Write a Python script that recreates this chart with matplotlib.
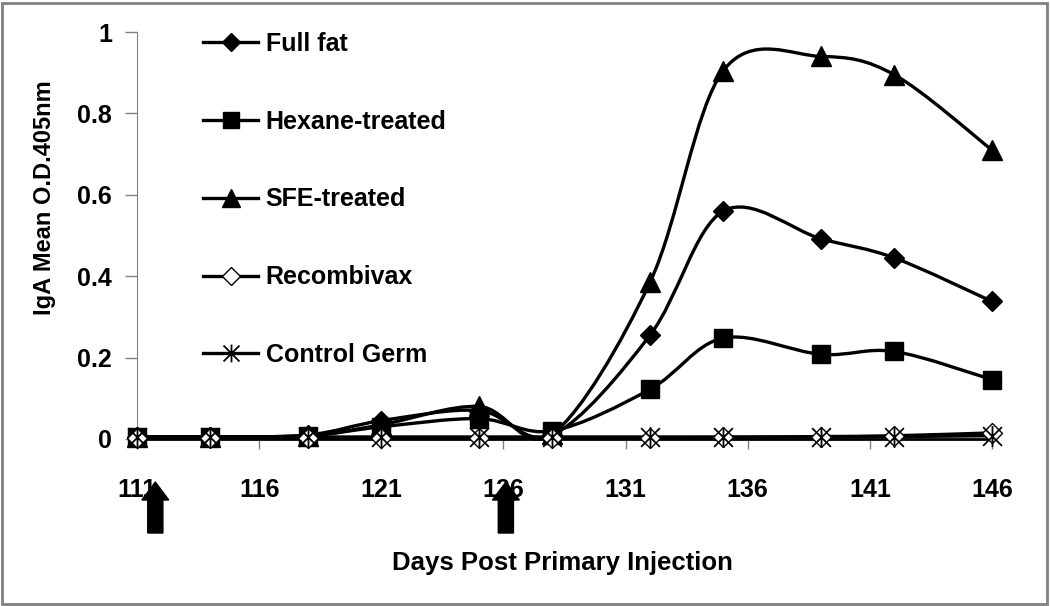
import numpy as np
import matplotlib
matplotlib.use('Agg')
import matplotlib.pyplot as plt
import matplotlib.transforms as mtransforms
from matplotlib.path import Path
from matplotlib.patches import PathPatch, Rectangle, FancyArrow
from matplotlib.lines import Line2D

plt.rcParams['font.family'] = ['Liberation Sans', 'DejaVu Sans']
plt.rcParams['font.weight'] = 'bold'

#data
days = [111, 114, 118, 121, 125, 128, 132, 135, 139, 142, 146]
full_fat   = [0.005, 0.005, 0.010, 0.045, 0.070, 0.010, 0.255, 0.560, 0.492, 0.445, 0.338]
hexane     = [0.005, 0.005, 0.008, 0.030, 0.050, 0.020, 0.122, 0.248, 0.208, 0.215, 0.146]
sfe        = [0.005, 0.005, 0.008, 0.035, 0.080, 0.012, 0.385, 0.905, 0.940, 0.895, 0.710]
recombivax = [0.003, 0.003, 0.003, 0.003, 0.003, 0.003, 0.003, 0.004, 0.006, 0.008, 0.015]
control    = [0.005, 0.005, 0.005, 0.005, 0.005, 0.005, 0.005, 0.005, 0.005, 0.006, 0.008]
labels = ['Full fat', 'Hexane-treated', 'SFE-treated', 'Recombivax', 'Control Germ']
arrow_days = [111.75, 126.1]
xticks = list(range(111, 147, 5))
yticks = [0, 0.2, 0.4, 0.6, 0.8, 1]

#asterisk marker: vertical bar plus an X
star = Path([(0, -1), (0, 1), (-0.9, -0.9), (0.9, 0.9), (-0.9, 0.9), (0.9, -0.9)],
            [Path.MOVETO, Path.LINETO] * 3)

styles = [dict(marker='D', ms=10.5, mfc='k'),
          dict(marker='s', ms=13, mfc='k'),
          dict(marker='^', ms=15, mfc='k'),
          dict(marker='D', ms=10.5, mfc='white'),
          dict(marker=star, ms=15, mfc='none', mew=1.3)]
series = [full_fat, hexane, sfe, recombivax, control]


def smooth_path(x, y):
    # excel style smoothed line: bezier through the points
    P = np.column_stack([x, y]).astype(float)
    n = len(P)
    verts = [P[0]]
    codes = [Path.MOVETO]
    for i in range(n - 1):
        p0 = P[i - 1] if i > 0 else P[i]
        p1, p2 = P[i], P[i + 1]
        p3 = P[i + 2] if i + 2 < n else P[i + 1]
        verts += [p1 + (p2 - p0) / 6, p2 - (p3 - p1) / 6, p2]
        codes += [Path.CURVE4] * 3
    return Path(verts, codes)


fig = plt.figure(figsize=(10.5, 6.06), dpi=100)
ax = fig.add_axes([137/1050, 1 - 439/606, (992 - 137)/1050, (439 - 32)/606])

for yv, st in zip(series, styles):
    ax.add_patch(PathPatch(smooth_path(days, yv), facecolor='none', edgecolor='k',
                           lw=2.4, clip_on=False, zorder=2))
for yv, st in zip(series, styles):
    ax.plot(days, yv, linestyle='none', color='k', mec='k', clip_on=False, zorder=3, **st)

ax.set_xlim(111, 146)
ax.set_ylim(0, 1)
ax.set_xticks(xticks)
ax.set_yticks(yticks)
ax.set_yticklabels(['0', '0.2', '0.4', '0.6', '0.8', '1'])
ax.tick_params(axis='x', direction='out', length=7, width=1, color='#808080', pad=21, labelsize=18)
ax.tick_params(axis='y', direction='out', length=9, width=1, color='#808080', pad=9, labelsize=18)
for s in ['top', 'right']:
    ax.spines[s].set_visible(False)
ax.spines['left'].set_color('#808080')
ax.spines['bottom'].set_color('k')
ax.spines['bottom'].set_linewidth(2)

handles = [Line2D([], [], color='k', lw=2.4, mec='k', **st) for st in styles]
ax.legend(handles, labels, loc='upper left', bbox_to_anchor=(203/1050, 1 - 32/606),
          bbox_transform=fig.transFigure, frameon=False, fontsize=18, handlelength=2.2,
          handletextpad=0.3, labelspacing=2.15, borderpad=0, borderaxespad=0, markerscale=0.85)

fig.text(45/1050, 1 - 198/606, 'IgA Mean O.D.405nm', rotation=90, ha='center', va='center', fontsize=17)
fig.text(562/1050, 1 - 563/606, 'Days Post Primary Injection', ha='center', va='center', fontsize=18.5)

#injection arrows
trans = mtransforms.blended_transform_factory(ax.transData, fig.transFigure)
for d in arrow_days:
    fig.patches.append(FancyArrow(d, 1 - 533/606, 0, (533 - 482)/606, width=0.62, head_width=1.1,
                                  head_length=18/606, length_includes_head=True,
                                  color='k', transform=trans))

fig.patches.append(Rectangle((2/1050, 2/606), 1045/1050, 601/606, transform=fig.transFigure,
                             fill=False, edgecolor='#808080', lw=2))

fig.savefig('out.png', dpi=100)
